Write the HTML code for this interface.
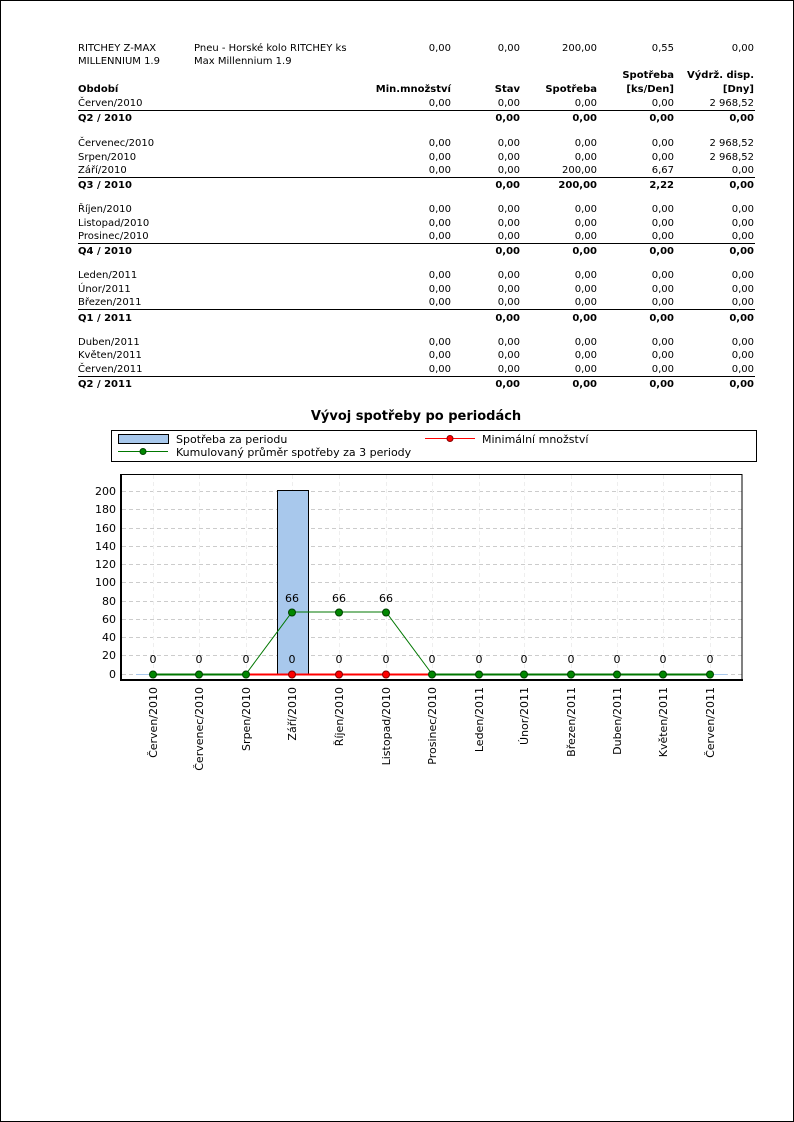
<!DOCTYPE html>
<html><head><meta charset="utf-8"><style>
html,body{margin:0;padding:0;background:#fff}
svg{display:block}
.t{font-family:"DejaVu Sans","Liberation Sans",sans-serif;font-size:10px;fill:#000}
.b{font-weight:bold}
.c{font-family:"DejaVu Sans","Liberation Sans",sans-serif;font-size:11px;fill:#000}
</style></head><body>
<svg width="794" height="1122" xmlns="http://www.w3.org/2000/svg">
<rect x="0.5" y="0.5" width="793" height="1121" fill="#fff" stroke="#000"/>
<g class="t">
<text x="78" y="51">RITCHEY Z-MAX</text><text x="78" y="64">MILLENNIUM 1.9</text>
<text x="194" y="51">Pneu - Horské kolo RITCHEY ks</text><text x="194" y="64">Max Millennium 1.9</text>
<g text-anchor="end">
<text x="451" y="51">0,00</text><text x="520" y="51">0,00</text><text x="597" y="51">200,00</text><text x="674" y="51">0,55</text><text x="754" y="51">0,00</text>
</g>
<g class="b">
<text x="78" y="92">Období</text>
<g text-anchor="end">
<text x="451" y="92">Min.množství</text><text x="520" y="92">Stav</text><text x="597" y="92">Spotřeba</text>
<text x="674" y="78">Spotřeba</text><text x="674" y="92">[ks/Den]</text>
<text x="754" y="78">Výdrž. disp.</text><text x="754" y="92">[Dny]</text>
</g></g>
<text x="78" y="106">Červen/2010</text>
<g text-anchor="end"><text x="451" y="106">0,00</text><text x="520" y="106">0,00</text><text x="597" y="106">0,00</text><text x="674" y="106">0,00</text><text x="754" y="106">2 968,52</text></g>
<line x1="78" y1="110.5" x2="755" y2="110.5" stroke="#000"/>
<g class="b"><text x="78" y="121">Q2 / 2010</text><g text-anchor="end"><text x="520" y="121">0,00</text><text x="597" y="121">0,00</text><text x="674" y="121">0,00</text><text x="754" y="121">0,00</text></g></g>

<text x="78" y="146">Červenec/2010</text><text x="78" y="160">Srpen/2010</text><text x="78" y="173">Září/2010</text>
<g text-anchor="end">
<text x="451" y="146">0,00</text><text x="520" y="146">0,00</text><text x="597" y="146">0,00</text><text x="674" y="146">0,00</text><text x="754" y="146">2 968,52</text>
<text x="451" y="160">0,00</text><text x="520" y="160">0,00</text><text x="597" y="160">0,00</text><text x="674" y="160">0,00</text><text x="754" y="160">2 968,52</text>
<text x="451" y="173">0,00</text><text x="520" y="173">0,00</text><text x="597" y="173">200,00</text><text x="674" y="173">6,67</text><text x="754" y="173">0,00</text>
</g>
<line x1="78" y1="177.5" x2="755" y2="177.5" stroke="#000"/>
<g class="b"><text x="78" y="188">Q3 / 2010</text><g text-anchor="end"><text x="520" y="188">0,00</text><text x="597" y="188">200,00</text><text x="674" y="188">2,22</text><text x="754" y="188">0,00</text></g></g>

<text x="78" y="212">Říjen/2010</text><text x="78" y="226">Listopad/2010</text><text x="78" y="239">Prosinec/2010</text>
<g text-anchor="end">
<text x="451" y="212">0,00</text><text x="520" y="212">0,00</text><text x="597" y="212">0,00</text><text x="674" y="212">0,00</text><text x="754" y="212">0,00</text>
<text x="451" y="226">0,00</text><text x="520" y="226">0,00</text><text x="597" y="226">0,00</text><text x="674" y="226">0,00</text><text x="754" y="226">0,00</text>
<text x="451" y="239">0,00</text><text x="520" y="239">0,00</text><text x="597" y="239">0,00</text><text x="674" y="239">0,00</text><text x="754" y="239">0,00</text>
</g>
<line x1="78" y1="243.5" x2="755" y2="243.5" stroke="#000"/>
<g class="b"><text x="78" y="254">Q4 / 2010</text><g text-anchor="end"><text x="520" y="254">0,00</text><text x="597" y="254">0,00</text><text x="674" y="254">0,00</text><text x="754" y="254">0,00</text></g></g>

<text x="78" y="278">Leden/2011</text><text x="78" y="292">Únor/2011</text><text x="78" y="305">Březen/2011</text>
<g text-anchor="end">
<text x="451" y="278">0,00</text><text x="520" y="278">0,00</text><text x="597" y="278">0,00</text><text x="674" y="278">0,00</text><text x="754" y="278">0,00</text>
<text x="451" y="292">0,00</text><text x="520" y="292">0,00</text><text x="597" y="292">0,00</text><text x="674" y="292">0,00</text><text x="754" y="292">0,00</text>
<text x="451" y="305">0,00</text><text x="520" y="305">0,00</text><text x="597" y="305">0,00</text><text x="674" y="305">0,00</text><text x="754" y="305">0,00</text>
</g>
<line x1="78" y1="309.5" x2="755" y2="309.5" stroke="#000"/>
<g class="b"><text x="78" y="321">Q1 / 2011</text><g text-anchor="end"><text x="520" y="321">0,00</text><text x="597" y="321">0,00</text><text x="674" y="321">0,00</text><text x="754" y="321">0,00</text></g></g>

<text x="78" y="345">Duben/2011</text><text x="78" y="358">Květen/2011</text><text x="78" y="372">Červen/2011</text>
<g text-anchor="end">
<text x="451" y="345">0,00</text><text x="520" y="345">0,00</text><text x="597" y="345">0,00</text><text x="674" y="345">0,00</text><text x="754" y="345">0,00</text>
<text x="451" y="358">0,00</text><text x="520" y="358">0,00</text><text x="597" y="358">0,00</text><text x="674" y="358">0,00</text><text x="754" y="358">0,00</text>
<text x="451" y="372">0,00</text><text x="520" y="372">0,00</text><text x="597" y="372">0,00</text><text x="674" y="372">0,00</text><text x="754" y="372">0,00</text>
</g>
<line x1="78" y1="376.5" x2="755" y2="376.5" stroke="#000"/>
<g class="b"><text x="78" y="387">Q2 / 2011</text><g text-anchor="end"><text x="520" y="387">0,00</text><text x="597" y="387">0,00</text><text x="674" y="387">0,00</text><text x="754" y="387">0,00</text></g></g>
</g>

<text x="416" y="420" text-anchor="middle" font-family="DejaVu Sans,sans-serif" font-size="13" font-weight="bold">Vývoj spotřeby po periodách</text>
<rect x="111.5" y="430.5" width="645" height="31" fill="#fff" stroke="#000"/>
<rect x="118.5" y="434.5" width="50" height="9" fill="#a8c8ec" stroke="#000"/>
<text x="176" y="443" class="c">Spotřeba za periodu</text>
<line x1="425" y1="438.5" x2="475" y2="438.5" stroke="#f00"/><circle cx="450" cy="438.5" r="3" fill="#f00" stroke="#800"/>
<text x="482" y="443" class="c">Minimální množství</text>
<line x1="118" y1="451.5" x2="168" y2="451.5" stroke="#070"/><circle cx="143" cy="451.5" r="3" fill="#080" stroke="#040"/>
<text x="176" y="456" class="c">Kumulovaný průměr spotřeby za 3 periody</text>

<g stroke="#ccc" stroke-dasharray="4,3">
<line x1="122" x2="742" y1="491.5" y2="491.5"/><line x1="122" x2="742" y1="509.5" y2="509.5"/><line x1="122" x2="742" y1="528.5" y2="528.5"/><line x1="122" x2="742" y1="546.5" y2="546.5"/><line x1="122" x2="742" y1="564.5" y2="564.5"/><line x1="122" x2="742" y1="582.5" y2="582.5"/><line x1="122" x2="742" y1="601.5" y2="601.5"/><line x1="122" x2="742" y1="619.5" y2="619.5"/><line x1="122" x2="742" y1="637.5" y2="637.5"/><line x1="122" x2="742" y1="655.5" y2="655.5"/><line x1="122" x2="742" y1="674.5" y2="674.5"/>
</g>
<g stroke="#eee" stroke-dasharray="4,3">
<line y1="475" y2="679" x1="153.5" x2="153.5"/><line y1="475" y2="679" x1="199.5" x2="199.5"/><line y1="475" y2="679" x1="246.5" x2="246.5"/><line y1="475" y2="679" x1="292.5" x2="292.5"/><line y1="475" y2="679" x1="339.5" x2="339.5"/><line y1="475" y2="679" x1="386.5" x2="386.5"/><line y1="475" y2="679" x1="432.5" x2="432.5"/><line y1="475" y2="679" x1="479.5" x2="479.5"/><line y1="475" y2="679" x1="524.5" x2="524.5"/><line y1="475" y2="679" x1="571.5" x2="571.5"/><line y1="475" y2="679" x1="617.5" x2="617.5"/><line y1="475" y2="679" x1="663.5" x2="663.5"/><line y1="475" y2="679" x1="710.5" x2="710.5"/>
</g>
<line x1="136" x2="727" y1="674.5" y2="674.5" stroke="#a8c8ec"/>
<rect x="277.5" y="490.5" width="31" height="184" fill="#a8c8ec" stroke="#000"/>
<rect x="121.5" y="474.5" width="620.5" height="205" fill="none" stroke="#000"/>
<line x1="121" x2="121" y1="474" y2="681" stroke="#000" stroke-width="2"/>
<line x1="121" x2="743" y1="680" y2="680" stroke="#000" stroke-width="2"/>
<g font-family="DejaVu Sans,sans-serif" font-size="11" text-anchor="end" fill="#000">
<text x="116" y="495">200</text><text x="116" y="513">180</text><text x="116" y="532">160</text><text x="116" y="550">140</text><text x="116" y="568">120</text><text x="116" y="586">100</text><text x="116" y="605">80</text><text x="116" y="623">60</text><text x="116" y="641">40</text><text x="116" y="659">20</text><text x="116" y="678">0</text>
</g>
<polyline points="246,674.5 432,674.5" fill="none" stroke="#f00" stroke-width="2"/>
<polyline points="153,674.5 246,674.5" fill="none" stroke="#070" stroke-width="2"/>
<polyline points="432,674.5 710,674.5" fill="none" stroke="#070" stroke-width="2"/>
<polyline points="246,674 292,612 339,612 386,612 432,674" fill="none" stroke="#070"/>
<g fill="#080" stroke="#040">
<circle cx="153" cy="674.5" r="3.5"/><circle cx="199" cy="674.5" r="3.5"/><circle cx="246" cy="674.5" r="3.5"/><circle cx="292" cy="612.5" r="3.5"/><circle cx="339" cy="612.5" r="3.5"/><circle cx="386" cy="612.5" r="3.5"/><circle cx="432" cy="674.5" r="3.5"/><circle cx="479" cy="674.5" r="3.5"/><circle cx="524" cy="674.5" r="3.5"/><circle cx="571" cy="674.5" r="3.5"/><circle cx="617" cy="674.5" r="3.5"/><circle cx="663" cy="674.5" r="3.5"/><circle cx="710" cy="674.5" r="3.5"/>
</g>
<g fill="#f00" stroke="#800"><circle cx="292" cy="674.5" r="3.5"/><circle cx="339" cy="674.5" r="3.5"/><circle cx="386" cy="674.5" r="3.5"/></g>
<g font-family="DejaVu Sans,sans-serif" font-size="11" text-anchor="middle">
<text x="153" y="663">0</text><text x="199" y="663">0</text><text x="246" y="663">0</text><text x="292" y="663">0</text><text x="339" y="663">0</text><text x="386" y="663">0</text><text x="432" y="663">0</text><text x="479" y="663">0</text><text x="524" y="663">0</text><text x="571" y="663">0</text><text x="617" y="663">0</text><text x="663" y="663">0</text><text x="710" y="663">0</text>
<text x="292" y="602">66</text><text x="339" y="602">66</text><text x="386" y="602">66</text>
</g>
<g font-family="DejaVu Sans,sans-serif" font-size="11" text-anchor="end">
<text transform="translate(157,687) rotate(-90)">Červen/2010</text>
<text transform="translate(203,687) rotate(-90)">Červenec/2010</text>
<text transform="translate(250,687) rotate(-90)">Srpen/2010</text>
<text transform="translate(296,687) rotate(-90)">Září/2010</text>
<text transform="translate(343,687) rotate(-90)">Říjen/2010</text>
<text transform="translate(390,687) rotate(-90)">Listopad/2010</text>
<text transform="translate(436,687) rotate(-90)">Prosinec/2010</text>
<text transform="translate(483,687) rotate(-90)">Leden/2011</text>
<text transform="translate(528,687) rotate(-90)">Únor/2011</text>
<text transform="translate(575,687) rotate(-90)">Březen/2011</text>
<text transform="translate(621,687) rotate(-90)">Duben/2011</text>
<text transform="translate(667,687) rotate(-90)">Květen/2011</text>
<text transform="translate(714,687) rotate(-90)">Červen/2011</text>
</g>
</svg>
</body></html>
